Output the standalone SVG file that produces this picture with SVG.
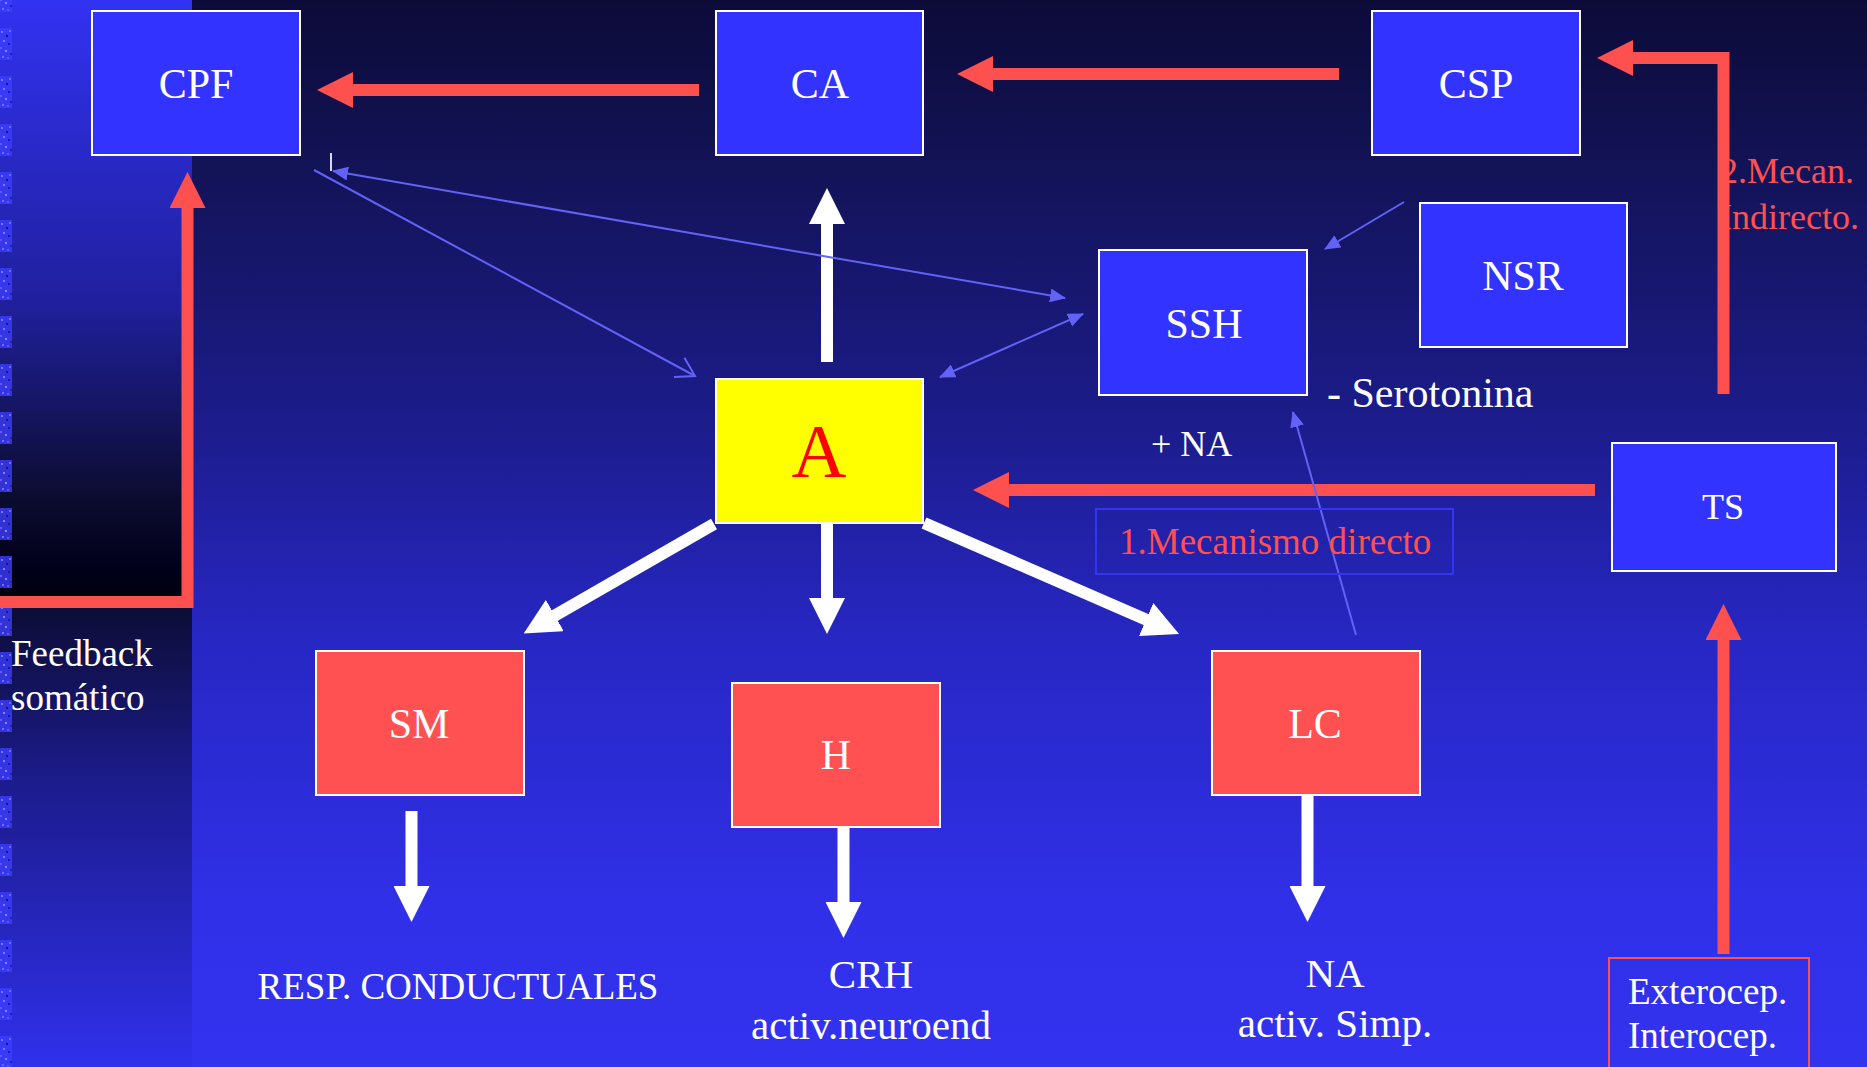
<svg xmlns="http://www.w3.org/2000/svg" width="1867" height="1067" viewBox="0 0 1867 1067">
<defs>
  <linearGradient id="bg" x1="0" y1="0" x2="0" y2="1">
    <stop offset="0" stop-color="#0c0b38"/>
    <stop offset="0.16" stop-color="#131358"/>
    <stop offset="0.4" stop-color="#1c1c8c"/>
    <stop offset="0.6" stop-color="#2727c4"/>
    <stop offset="0.85" stop-color="#3030e8"/>
    <stop offset="1" stop-color="#3333f0"/>
  </linearGradient>
  <linearGradient id="stripTop" x1="0" y1="0" x2="0" y2="1">
    <stop offset="0" stop-color="#3232f2"/>
    <stop offset="0.5" stop-color="#20209e"/>
    <stop offset="0.83" stop-color="#0c0c30"/>
    <stop offset="0.95" stop-color="#00001a"/>
    <stop offset="1" stop-color="#000010"/>
  </linearGradient>
  <linearGradient id="stripBot" x1="0" y1="0" x2="0" y2="1">
    <stop offset="0" stop-color="#0c0c32"/>
    <stop offset="0.4" stop-color="#1c1c8e"/>
    <stop offset="1" stop-color="#3030ec"/>
  </linearGradient>
  <pattern id="dots" patternUnits="userSpaceOnUse" x="0" y="28" width="12" height="48">
    <rect x="0" y="0" width="12" height="32" fill="#3c3cff" opacity="0.8"/>
    <rect x="1" y="3" width="2" height="2" fill="#7a7aff"/>
    <rect x="6" y="7" width="2" height="2" fill="#1414a0"/>
    <rect x="9" y="2" width="2" height="2" fill="#6a6aff"/>
    <rect x="3" y="12" width="2" height="2" fill="#8080ff"/>
    <rect x="8" y="15" width="2" height="2" fill="#1818b0"/>
    <rect x="0" y="19" width="2" height="2" fill="#6060ff"/>
    <rect x="5" y="22" width="2" height="2" fill="#8a8aff"/>
    <rect x="10" y="25" width="2" height="2" fill="#2020b0"/>
    <rect x="2" y="28" width="2" height="2" fill="#7070ff"/>
    <rect x="7" y="29" width="2" height="2" fill="#5858ff"/>
  </pattern>
  <marker id="redHead" viewBox="0 0 36 36" markerWidth="36" markerHeight="36" markerUnits="userSpaceOnUse" refX="1" refY="18" orient="auto">
    <path d="M0,0 L36,18 L0,36 z" fill="#ff5050"/>
  </marker>
  <marker id="whiteHead" viewBox="0 0 36 36" markerWidth="36" markerHeight="36" markerUnits="userSpaceOnUse" refX="1" refY="18" orient="auto">
    <path d="M0,0 L36,18 L0,36 z" fill="#ffffff"/>
  </marker>
  <marker id="blueHead" viewBox="0 0 16 14" markerWidth="16" markerHeight="14" markerUnits="userSpaceOnUse" refX="15" refY="7" orient="auto-start-reverse">
    <path d="M0,0 L16,7 L0,14 z" fill="#6262f6"/>
  </marker>
  <marker id="blueOpen" viewBox="0 0 22 24" markerWidth="22" markerHeight="24" markerUnits="userSpaceOnUse" refX="20" refY="12" orient="auto">
    <path d="M2,1 L20,12 L2,23" fill="none" stroke="#6262f6" stroke-width="2"/>
  </marker>
  <style>
    .node rect { stroke: #ffffff; stroke-width: 2; }
    .blue rect { fill: #3333ff; }
    .red rect { fill: #ff5151; }
    .yellow rect { fill: #ffff00; }
    text { font-family: "Liberation Serif", "Times New Roman", serif; }
    .lbl { fill: #ffffff; font-size: 42px; text-anchor: middle; }
    .txt { fill: #ffffff; font-size: 37px; }
    .rtxt { fill: #ff5050; }
    .redArrow { stroke: #ff5050; stroke-width: 12; fill: none; marker-end: url(#redHead); }
    .whiteArrow { stroke: #ffffff; stroke-width: 12; fill: none; marker-end: url(#whiteHead); }
    .thin { stroke: #6262f6; stroke-width: 2; fill: none; }
  </style>
</defs>

<g id="background">
  <rect x="0" y="0" width="1867" height="1067" fill="url(#bg)"/>
  <rect x="0" y="0" width="192" height="600" fill="url(#stripTop)"/>
  <rect x="0" y="600" width="192" height="467" fill="url(#stripBot)"/>
  <rect x="0" y="0" width="12" height="1067" fill="url(#dots)"/>
</g>

<g id="connectors">
  <!-- red arrows -->
  <line class="redArrow" x1="699" y1="90" x2="352" y2="90"/>
  <line class="redArrow" x1="1339" y1="74" x2="992" y2="74"/>
  <path class="redArrow" d="M1723.5,394 L1723.5,58 L1632,58"/>
  <line class="redArrow" x1="1595" y1="490" x2="1008" y2="490"/>
  <line class="redArrow" x1="1723.5" y1="954" x2="1723.5" y2="639"/>
  <path class="redArrow" d="M0,602 L187.5,602 L187.5,207"/>
  <!-- white arrows -->
  <line class="whiteArrow" x1="827" y1="362" x2="827" y2="223"/>
  <line class="whiteArrow" x1="827" y1="523" x2="827" y2="599"/>
  <line class="whiteArrow" x1="714" y1="524" x2="554" y2="616"/>
  <line class="whiteArrow" x1="924" y1="523" x2="1147" y2="620"/>
  <line class="whiteArrow" x1="411.5" y1="811" x2="411.5" y2="887"/>
  <line class="whiteArrow" x1="843.5" y1="827" x2="843.5" y2="903"/>
  <line class="whiteArrow" x1="1307.5" y1="795" x2="1307.5" y2="887"/>
  <!-- thin blue lines -->
  <line class="thin" x1="314" y1="170" x2="695" y2="376" marker-end="url(#blueOpen)"/>
  <line class="thin" x1="333" y1="171" x2="1065" y2="298" marker-start="url(#blueHead)" marker-end="url(#blueHead)"/>
  <line class="thin" x1="1083" y1="314" x2="940" y2="377" marker-start="url(#blueHead)" marker-end="url(#blueHead)"/>
  <line class="thin" x1="1404" y1="202" x2="1325" y2="249" marker-end="url(#blueHead)"/>
  <line class="thin" x1="1356" y1="635" x2="1293" y2="412" marker-end="url(#blueHead)"/>
  <line x1="331" y1="153" x2="331" y2="171" stroke="#d8d8f0" stroke-width="2"/>
</g>

<g id="node-CPF" class="node blue">
  <rect x="92" y="11" width="208" height="144"/>
  <text class="lbl" x="196" y="98">CPF</text>
</g>
<g id="node-CA" class="node blue">
  <rect x="716" y="11" width="207" height="144"/>
  <text class="lbl" x="820" y="98">CA</text>
</g>
<g id="node-CSP" class="node blue">
  <rect x="1372" y="11" width="208" height="144"/>
  <text class="lbl" x="1476" y="98">CSP</text>
</g>
<g id="node-NSR" class="node blue">
  <rect x="1420" y="203" width="207" height="144"/>
  <text class="lbl" x="1523" y="290">NSR</text>
</g>
<g id="node-SSH" class="node blue">
  <rect x="1099" y="250" width="208" height="145"/>
  <text class="lbl" x="1204" y="338">SSH</text>
</g>
<g id="node-TS" class="node blue">
  <rect x="1612" y="443" width="224" height="128"/>
  <text class="lbl" x="1723" y="519" style="font-size:36px">TS</text>
</g>
<g id="node-A" class="node yellow">
  <rect x="716" y="379" width="207" height="144"/>
  <text x="819" y="477" style="font-size:76px;fill:#ff0000;text-anchor:middle">A</text>
</g>
<g id="node-SM" class="node red">
  <rect x="316" y="651" width="208" height="144"/>
  <text class="lbl" x="419" y="738">SM</text>
</g>
<g id="node-H" class="node red">
  <rect x="732" y="683" width="208" height="144"/>
  <text class="lbl" x="836" y="769">H</text>
</g>
<g id="node-LC" class="node red">
  <rect x="1212" y="651" width="208" height="144"/>
  <text class="lbl" x="1315" y="738">LC</text>
</g>
<g id="node-Exterocep">
  <rect x="1609" y="958" width="200" height="120" fill="none" stroke="#ff5050" stroke-width="2"/>
  <text class="txt" x="1628" y="1004">Exterocep.</text>
  <text class="txt" x="1628" y="1048">Interocep.</text>
</g>

<g id="labels">
  <rect x="1096" y="509" width="357" height="65" fill="none" stroke="#3535f0" stroke-width="2"/>
  <text class="rtxt" x="1119" y="554" style="font-size:37px">1.Mecanismo directo</text>
  <text class="rtxt" x="1720" y="183" style="font-size:36px">2.Mecan.</text>
  <text class="rtxt" x="1720" y="229" style="font-size:36px">Indirecto.</text>
  <text class="txt" x="1327" y="407" style="font-size:42px">- Serotonina</text>
  <text class="txt" x="1151" y="456" style="font-size:36px">+ NA</text>
  <text class="txt" x="11" y="666">Feedback</text>
  <text class="txt" x="11" y="710">somático</text>
  <text class="txt" x="458" y="999" style="text-anchor:middle">RESP. CONDUCTUALES</text>
  <text class="txt" x="871" y="988" style="text-anchor:middle;font-size:41px">CRH</text>
  <text class="txt" x="871" y="1039" style="text-anchor:middle;font-size:41px">activ.neuroend</text>
  <text class="txt" x="1335" y="987" style="text-anchor:middle;font-size:41px">NA</text>
  <text class="txt" x="1335" y="1037" style="text-anchor:middle;font-size:41px">activ. Simp.</text>
</g>
</svg>
